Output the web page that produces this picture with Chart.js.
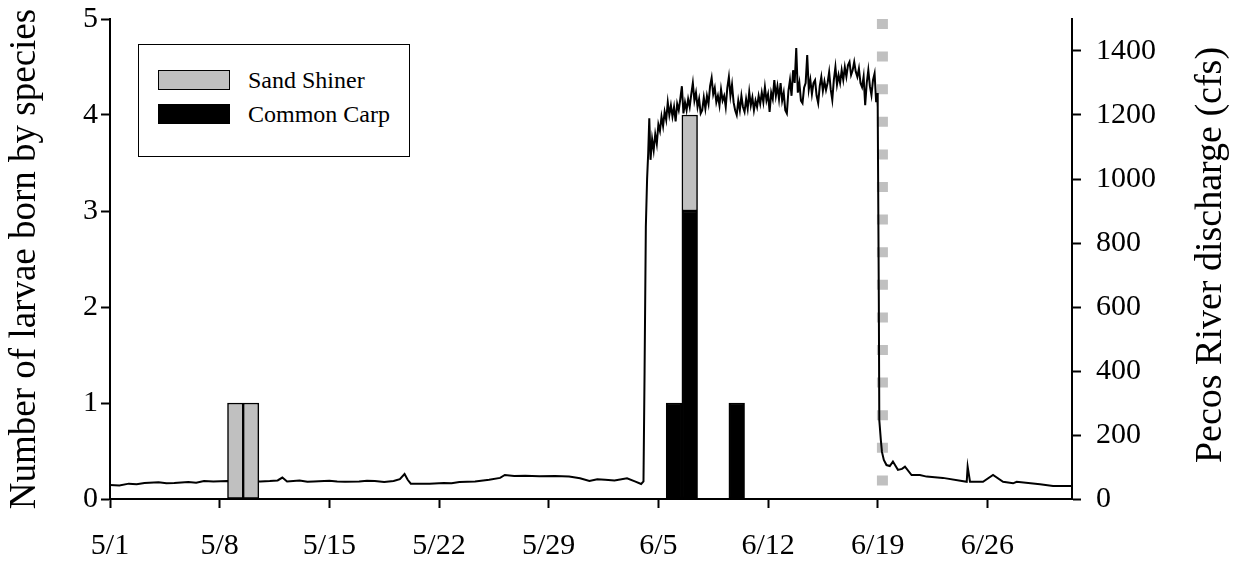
<!DOCTYPE html>
<html><head><meta charset="utf-8">
<script src="https://cdn.jsdelivr.net/npm/chart.js@4.4.1/dist/chart.umd.min.js"></script>
<style>
html,body{margin:0;padding:0;background:#fff;}
#wrap{position:relative;width:1236px;height:562px;}
canvas{display:block;}
#legend{position:absolute;left:138px;top:44px;width:272px;height:113px;border:1.5px solid #000;box-sizing:border-box;background:#fff;font-family:"Liberation Serif","Times New Roman",serif;font-size:24px;color:#000;}
.item{position:absolute;left:19px;height:20px;display:flex;align-items:center;white-space:nowrap;}
.sw{width:72px;height:20px;box-sizing:border-box;border:1.5px solid #000;margin-right:18px;flex:none;}
</style></head>
<body><div id="wrap"><canvas id="c" width="1236" height="562"></canvas><div id="legend"></div></div>
<script>
// ---- data ----
const xTickDays = [0, 7, 14, 21, 28, 35, 42, 49, 56];
const xTickLabels = ['5/1', '5/8', '5/15', '5/22', '5/29', '6/5', '6/12', '6/19', '6/26'];
const leftTicks = [0, 1, 2, 3, 4, 5];
const rightTicks = [0, 200, 400, 600, 800, 1000, 1200, 1400];
const leftAxisTitle = 'Number of larvae born by species';
const rightAxisTitle = 'Pecos River discharge (cfs)';

const shinerLabel = 'Sand Shiner';
const shinerDays = [8, 9, 37];
const shinerCounts = [1, 1, 1];

const carpLabel = 'Common Carp';
const carpDays = [36, 37, 40];
const carpCounts = [1, 3, 1];

const releaseEndDay = 49.3;

const dischargeDays = [
  0.0, 0.6, 1.2, 1.7, 2.2, 3.1, 3.6, 4.1, 5.0, 5.5, 6.0, 6.6, 7.5, 9.6, 10.2, 10.7, 11.0, 11.3, 12.1, 12.6, 13.0, 14.0, 14.5, 15.0, 15.9, 16.4, 16.9, 17.5, 18.1, 18.5, 18.8, 19.0, 19.2, 20.4, 21.3, 21.8, 22.3, 23.3, 24.2, 24.9, 25.2, 25.8, 26.5, 27.4, 28.4, 29.3, 30.0, 30.6, 31.1, 31.6, 32.2, 33.0, 33.5, 33.9,
  34.05, 34.12, 34.2, 34.28, 34.35, 34.42,
  34.5, 34.6, 34.7, 34.8, 34.9,
  35.0, 35.1, 35.2, 35.3, 35.4, 35.5, 35.6, 35.7, 35.8, 35.9,
  36.0, 36.1, 36.2, 36.3, 36.4, 36.5, 36.6, 36.7, 36.8, 36.9,
  37.0, 37.1, 37.2, 37.3, 37.4, 37.5, 37.6, 37.7, 37.8, 37.9,
  38.0, 38.1, 38.2, 38.3, 38.4, 38.5, 38.6, 38.7, 38.8, 38.9,
  39.0, 39.1, 39.2, 39.3, 39.4, 39.5, 39.6, 39.7, 39.8, 39.9,
  40.0, 40.1, 40.2, 40.3, 40.4, 40.5, 40.6, 40.7, 40.8, 40.9,
  41.0, 41.1, 41.2, 41.3, 41.4, 41.5, 41.6, 41.7, 41.8, 41.9,
  42.0, 42.1, 42.2, 42.3, 42.4, 42.5, 42.6, 42.7, 42.8, 42.9,
  43.0, 43.1, 43.2, 43.3, 43.4, 43.5, 43.6, 43.7, 43.8, 43.9,
  44.0, 44.1, 44.2, 44.3, 44.4, 44.5, 44.6, 44.7, 44.8, 44.9,
  45.0, 45.1, 45.2, 45.3, 45.4, 45.5, 45.6, 45.7, 45.8, 45.9,
  46.0, 46.1, 46.2, 46.3, 46.4, 46.5, 46.6, 46.7, 46.8, 46.9,
  47.0, 47.1, 47.2, 47.3, 47.4, 47.5, 47.6, 47.7, 47.8, 47.9,
  48.0, 48.1, 48.2, 48.3, 48.4, 48.5, 48.6, 48.7, 48.8, 48.9,
  48.96, 49.0, 49.07, 49.1, 49.2, 49.27, 49.39, 49.56, 49.77, 49.97, 50.29, 50.55, 50.74, 51.16, 51.69, 52.12, 53.16, 54.68, 54.74, 54.89, 55.72, 56.36, 57.0, 57.64, 57.87, 59.36, 60.19, 61.4
];
const dischargeCfs = [
  44, 42, 48, 46, 50, 52, 49, 50, 53, 51, 56, 55, 56, 55, 56, 58, 67, 55, 58, 54, 55, 57, 55, 54, 55, 57, 56, 53, 56, 62, 78, 60, 48, 48, 50, 49, 53, 55, 60, 66, 75, 72, 73, 71, 72, 70, 65, 56, 62, 60, 58, 65, 55, 47,
  55, 400, 850, 1000, 1080, 1190,
  1060, 1125, 1090, 1140, 1110,
  1170, 1150, 1195, 1165, 1210, 1185, 1240, 1200, 1230, 1195,
  1225, 1180, 1235, 1215, 1250, 1290, 1205, 1240, 1215, 1250,
  1225, 1265, 1300, 1245, 1270, 1225, 1250, 1205, 1215, 1255,
  1220, 1260, 1235, 1290, 1316, 1265, 1285, 1240, 1260, 1230,
  1280, 1245, 1260, 1225, 1285, 1319, 1260, 1295, 1240, 1215,
  1200, 1245, 1215, 1260, 1225, 1210, 1250, 1220, 1272, 1230,
  1255, 1215, 1245, 1225, 1260, 1235, 1270, 1240, 1287, 1245,
  1265, 1210, 1270, 1250, 1309, 1260, 1290, 1250, 1300, 1245,
  1270, 1215, 1205, 1275, 1309, 1260, 1340, 1300, 1409, 1270,
  1300, 1245, 1237, 1285, 1300, 1387, 1280, 1310, 1265, 1300,
  1309, 1260, 1237, 1290, 1319, 1275, 1305, 1278, 1300, 1334,
  1280, 1247, 1310, 1350, 1295, 1325, 1300, 1340, 1310, 1350,
  1320, 1355, 1366, 1325, 1340, 1366, 1335, 1319, 1345, 1300,
  1287, 1320, 1231, 1300, 1340, 1290, 1262, 1310, 1330, 1240,
  1269, 1225, 622, 247, 184, 147, 122, 106, 103, 117, 91, 94, 101, 75, 75, 70, 66, 54, 101, 54, 54, 75, 54, 49, 54, 46, 41, 41
];

// ---- chart ----
const serif = '"Liberation Serif","Times New Roman",serif';
const f = (size) => ({ family: serif, size: size, weight: 'normal' });
const gray = '#c0c0c0';
const axisGrid = { display: true, drawOnChartArea: false, drawTicks: true, tickLength: 9, tickColor: '#000', tickWidth: 2, offset: false };
const axisBorder = { display: true, color: '#000', width: 2 };
const noPad = (s) => { s.paddingTop = 0; s.paddingBottom = 0; s.paddingLeft = 0; s.paddingRight = 0; };

const pts = (xs, ys) => xs.map((x, i) => ({ x: x, y: ys[i] }));

const rightTitlePlugin = {
  id: 'rightTitle',
  afterDraw(chart) {
    const { ctx, chartArea } = chart;
    ctx.save();
    ctx.font = '38px ' + serif;
    ctx.fillStyle = '#000';
    ctx.translate(chartArea.right + 139, (chartArea.top + chartArea.bottom) / 2 - 4);
    ctx.rotate(-Math.PI / 2);
    ctx.textAlign = 'center';
    ctx.textBaseline = 'middle';
    ctx.fillText(rightAxisTitle, 0, 0);
    ctx.restore();
  }
};

const chart = new Chart(document.getElementById('c'), {
  type: 'line',
  data: {
    datasets: [
      { type: 'bar', label: carpLabel, data: pts(carpDays, carpCounts), backgroundColor: '#000', borderColor: '#000', borderWidth: 1.5, borderSkipped: false, barPercentage: 1, categoryPercentage: 1, stack: 's', yAxisID: 'y', order: 0 },
      { type: 'bar', label: shinerLabel, data: pts(shinerDays, shinerCounts), backgroundColor: gray, borderColor: '#000', borderWidth: 1.5, borderSkipped: false, barPercentage: 1, categoryPercentage: 1, stack: 's', yAxisID: 'y', order: 1 },
      { type: 'line', label: 'Discharge', data: pts(dischargeDays, dischargeCfs), borderColor: '#000', borderWidth: 2, pointRadius: 0, tension: 0, fill: false, yAxisID: 'y2', order: 2 },
      { type: 'line', label: 'Release end', data: [{ x: releaseEndDay, y: 1500 }, { x: releaseEndDay, y: 0 }], borderColor: gray, borderWidth: 11, borderDash: [10, 22.6], borderCapStyle: 'butt', pointRadius: 0, fill: false, yAxisID: 'y2', order: 3 }
    ]
  },
  options: {
    responsive: false,
    animation: false,
    devicePixelRatio: 1,
    events: [],
    layout: { padding: { top: 19, left: 0, right: 0, bottom: 0 } },
    plugins: { legend: { display: false }, tooltip: { enabled: false } },
    scales: {
      x: {
        type: 'linear', min: 0, max: 61.4, offset: false, stacked: true,
        afterBuildTicks: (s) => { s.ticks = xTickDays.map(v => ({ value: v })); },
        afterFit: (s) => { s.height = 63; noPad(s); },
        ticks: { font: f(30), color: '#000', padding: 20, maxRotation: 0, autoSkip: false,
          callback: (v) => xTickLabels[xTickDays.indexOf(v)] },
        grid: axisGrid, border: axisBorder
      },
      y: {
        position: 'left', min: 0, max: 5, stacked: true,
        afterBuildTicks: (s) => { s.ticks = leftTicks.map(v => ({ value: v })); },
        afterFit: (s) => { s.width = 110; noPad(s); },
        ticks: { font: f(30), color: '#000', padding: 3, callback: (v) => String(v) },
        grid: axisGrid, border: axisBorder,
        title: { display: true, text: leftAxisTitle, font: f(37), color: '#000', padding: { top: 3, bottom: 0 } }
      },
      y2: {
        position: 'right', min: 0, max: 1500,
        afterBuildTicks: (s) => { s.ticks = rightTicks.map(v => ({ value: v })); },
        afterFit: (s) => { s.width = 164; noPad(s); },
        ticks: { font: f(30), color: '#000', padding: 15, callback: (v) => String(v) },
        grid: axisGrid, border: axisBorder
      }
    }
  },
  plugins: [rightTitlePlugin]
});

// HTML legend (Sand Shiner first, as in the figure)
const legendEl = document.getElementById('legend');
[shinerLabel, carpLabel].forEach((lab, i) => {
  const ds = chart.data.datasets.find(d => d.label === lab);
  const item = document.createElement('div');
  item.className = 'item';
  item.style.top = (i === 0 ? 25 : 59) + 'px';
  const sw = document.createElement('div');
  sw.className = 'sw';
  sw.style.background = ds.backgroundColor;
  const tx = document.createElement('span');
  tx.textContent = lab;
  item.appendChild(sw); item.appendChild(tx);
  legendEl.appendChild(item);
});
</script>
</body></html>
